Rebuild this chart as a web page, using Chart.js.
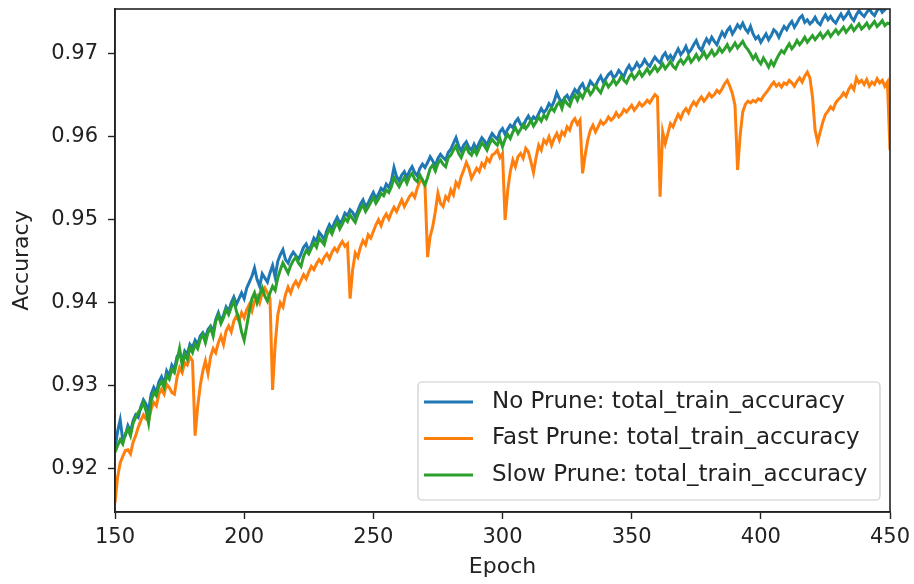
<!DOCTYPE html>
<html>
<head>
<meta charset="utf-8">
<script src="https://cdn.jsdelivr.net/npm/chart.js@4/dist/chart.umd.min.js"></script>
<style>
  html, body { margin: 0; padding: 0; background: #ffffff; }
  canvas { display: block; }
</style>
</head>
<body>
<canvas id="chart" width="914" height="584"></canvas>
<script>
// Epochs 150..450, one accuracy reading per epoch
const firstEpoch = 150;
const epochCount = 301;
const epochs = Array.from({ length: epochCount }, (_, i) => firstEpoch + i);

const noPrune = [
  0.9225,0.9245,0.9259,0.9235,0.9240,0.9252,0.9245,0.9258,0.9265,0.9262,
  0.9275,0.9283,0.9278,0.9270,0.9290,0.9298,0.9292,0.9305,0.9311,0.9302,
  0.9318,0.9312,0.9325,0.9320,0.9335,0.9340,0.9330,0.9342,0.9338,0.9350,
  0.9346,0.9355,0.9350,0.9360,0.9364,0.9358,0.9368,0.9372,0.9365,0.9380,
  0.9388,0.9378,0.9385,0.9395,0.9390,0.9400,0.9407,0.9398,0.9405,0.9412,
  0.9405,0.9418,0.9425,0.9432,0.9442,0.9428,0.9420,0.9435,0.9430,0.9425,
  0.9436,0.9445,0.9431,0.9450,0.9458,0.9464,0.9452,0.9448,0.9456,0.9461,
  0.9457,0.9452,0.9459,0.9467,0.9471,0.9463,0.9469,0.9478,0.9474,0.9485,
  0.9481,0.9476,0.9487,0.9494,0.9489,0.9497,0.9503,0.9496,0.9500,0.9508,
  0.9505,0.9512,0.9509,0.9503,0.9511,0.9519,0.9524,0.9516,0.9520,0.9527,
  0.9533,0.9526,0.9531,0.9538,0.9535,0.9543,0.9539,0.9547,0.9563,0.9552,
  0.9547,0.9554,0.9558,0.9551,0.9559,0.9564,0.9557,0.9553,0.9562,0.9567,
  0.9563,0.9569,0.9576,0.9571,0.9565,0.9574,0.9579,0.9575,0.9572,0.9581,
  0.9585,0.9592,0.9599,0.9589,0.9583,0.9590,0.9594,0.9587,0.9584,0.9591,
  0.9585,0.9593,0.9599,0.9595,0.9590,0.9598,0.9604,0.9600,0.9597,0.9606,
  0.9610,0.9603,0.9609,0.9614,0.9611,0.9618,0.9622,0.9615,0.9612,0.9620,
  0.9625,0.9619,0.9624,0.9621,0.9628,0.9634,0.9629,0.9633,0.9640,0.9636,
  0.9643,0.9653,0.9646,0.9641,0.9647,0.9650,0.9644,0.9651,0.9657,0.9653,
  0.9660,0.9664,0.9656,0.9659,0.9667,0.9663,0.9661,0.9668,0.9673,0.9666,
  0.9670,0.9675,0.9678,0.9671,0.9674,0.9680,0.9676,0.9673,0.9681,0.9686,
  0.9680,0.9683,0.9689,0.9684,0.9687,0.9693,0.9688,0.9685,0.9691,0.9696,
  0.9692,0.9689,0.9697,0.9701,0.9694,0.9698,0.9693,0.9700,0.9706,0.9699,
  0.9703,0.9709,0.9701,0.9705,0.9711,0.9716,0.9708,0.9704,0.9712,0.9718,
  0.9713,0.9720,0.9715,0.9711,0.9719,0.9726,0.9721,0.9728,0.9732,0.9724,
  0.9729,0.9735,0.9731,0.9737,0.9730,0.9726,0.9733,0.9724,0.9718,0.9721,
  0.9714,0.9719,0.9724,0.9717,0.9722,0.9729,0.9726,0.9720,0.9727,0.9733,
  0.9729,0.9735,0.9739,0.9732,0.9737,0.9743,0.9746,0.9738,0.9741,0.9736,
  0.9739,0.9744,0.9738,0.9735,0.9742,0.9747,0.9741,0.9745,0.9740,0.9737,
  0.9743,0.9748,0.9742,0.9746,0.9751,0.9744,0.9740,0.9747,0.9752,0.9748,
  0.9745,0.9750,0.9754,0.9749,0.9746,0.9752,0.9756,0.9750,0.9753,0.9757,
  0.9755
];

const fastPrune = [
  0.9159,0.9190,0.9207,0.9215,0.9222,0.9223,0.9218,0.9232,0.9240,0.9250,
  0.9258,0.9265,0.9260,0.9258,0.9272,0.9280,0.9276,0.9290,0.9296,0.9290,
  0.9302,0.9298,0.9292,0.9290,0.9310,0.9322,0.9316,0.9328,0.9325,0.9335,
  0.9330,0.9240,0.9275,0.9300,0.9318,0.9330,0.9315,0.9335,0.9345,0.9340,
  0.9352,0.9360,0.9350,0.9366,0.9372,0.9365,0.9378,0.9384,0.9378,0.9388,
  0.9382,0.9392,0.9398,0.9390,0.9402,0.9408,0.9400,0.9412,0.9418,0.9412,
  0.9405,0.9295,0.9350,0.9385,0.9400,0.9395,0.9410,0.9419,0.9412,0.9421,
  0.9426,0.9420,0.9427,0.9434,0.9429,0.9437,0.9444,0.9440,0.9447,0.9452,
  0.9448,0.9455,0.9459,0.9453,0.9461,0.9466,0.9462,0.9469,0.9474,0.9468,
  0.9471,0.9405,0.9440,0.9460,0.9455,0.9467,0.9475,0.9470,0.9482,0.9478,
  0.9486,0.9494,0.9500,0.9493,0.9502,0.9507,0.9501,0.9509,0.9515,0.9510,
  0.9517,0.9524,0.9516,0.9522,0.9528,0.9532,0.9527,0.9538,0.9546,0.9548,
  0.9540,0.9455,0.9480,0.9492,0.9510,0.9532,0.9520,0.9516,0.9528,0.9524,
  0.9536,0.9530,0.9545,0.9540,0.9552,0.9560,0.9569,0.9562,0.9550,0.9556,
  0.9562,0.9558,0.9568,0.9564,0.9574,0.9570,0.9578,0.9580,0.9584,0.9575,
  0.9580,0.9500,0.9535,0.9558,0.9572,0.9564,0.9576,0.9580,0.9574,0.9586,
  0.9582,0.9570,0.9557,0.9575,0.9590,0.9584,0.9596,0.9592,0.9600,0.9590,
  0.9598,0.9604,0.9596,0.9606,0.9602,0.9612,0.9608,0.9618,0.9622,0.9615,
  0.9620,0.9556,0.9578,0.9596,0.9608,0.9614,0.9606,0.9612,0.9619,0.9615,
  0.9618,0.9624,0.9620,0.9623,0.9629,0.9624,0.9627,0.9633,0.9630,0.9634,
  0.9638,0.9632,0.9636,0.9641,0.9637,0.9640,0.9644,0.9641,0.9646,0.9651,
  0.9648,0.9528,0.9606,0.9592,0.9604,0.9616,0.9612,0.9620,0.9627,0.9622,
  0.9630,0.9634,0.9629,0.9637,0.9642,0.9638,0.9644,0.9648,0.9643,0.9647,
  0.9652,0.9648,0.9651,0.9656,0.9653,0.9658,0.9664,0.9668,0.9661,0.9652,
  0.9638,0.9560,0.9602,0.9630,0.9639,0.9643,0.9641,0.9644,0.9642,0.9646,
  0.9644,0.9649,0.9653,0.9657,0.9662,0.9666,0.9661,0.9664,0.9660,0.9665,
  0.9663,0.9668,0.9665,0.9661,0.9667,0.9671,0.9666,0.9673,0.9678,0.9671,
  0.9648,0.9608,0.9594,0.9606,0.9618,0.9627,0.9631,0.9636,0.9633,0.9641,
  0.9645,0.9648,0.9653,0.9649,0.9657,0.9662,0.9657,0.9671,0.9665,0.9668,
  0.9663,0.9669,0.9661,0.9666,0.9663,0.9670,0.9665,0.9668,0.9661,0.9666,
  0.9584
];

const slowPrune = [
  0.9220,0.9228,0.9235,0.9230,0.9242,0.9248,0.9240,0.9255,0.9262,0.9268,
  0.9272,0.9280,0.9270,0.9255,0.9282,0.9292,0.9288,0.9300,0.9305,0.9298,
  0.9312,0.9308,0.9320,0.9316,0.9330,0.9345,0.9325,0.9338,0.9332,0.9346,
  0.9340,0.9350,0.9345,0.9356,0.9362,0.9352,0.9364,0.9370,0.9360,0.9378,
  0.9385,0.9375,0.9382,0.9392,0.9386,0.9395,0.9402,0.9390,0.9380,0.9365,
  0.9355,0.9372,0.9390,0.9405,0.9412,0.9400,0.9410,0.9418,0.9408,0.9402,
  0.9412,0.9420,0.9415,0.9430,0.9440,0.9448,0.9442,0.9436,0.9445,0.9451,
  0.9455,0.9448,0.9444,0.9456,0.9463,0.9459,0.9466,0.9472,0.9467,0.9478,
  0.9474,0.9470,0.9482,0.9489,0.9483,0.9491,0.9497,0.9489,0.9495,0.9502,
  0.9498,0.9506,0.9501,0.9497,0.9506,0.9513,0.9518,0.9510,0.9515,0.9521,
  0.9527,0.9520,0.9525,0.9532,0.9529,0.9536,0.9533,0.9540,0.9551,0.9545,
  0.9540,0.9546,0.9551,0.9544,0.9552,0.9556,0.9549,0.9546,0.9554,0.9548,
  0.9542,0.9551,0.9562,0.9566,0.9559,0.9568,0.9572,0.9567,0.9564,0.9575,
  0.9578,0.9584,0.9589,0.9580,0.9575,0.9583,0.9588,0.9581,0.9578,0.9585,
  0.9579,0.9586,0.9593,0.9589,0.9584,0.9592,0.9597,0.9593,0.9590,0.9598,
  0.9588,0.9597,0.9603,0.9598,0.9606,0.9611,0.9604,0.9609,0.9615,0.9610,
  0.9614,0.9620,0.9613,0.9618,0.9624,0.9619,0.9626,0.9622,0.9630,0.9635,
  0.9631,0.9638,0.9642,0.9634,0.9645,0.9640,0.9637,0.9646,0.9650,0.9644,
  0.9652,0.9647,0.9654,0.9658,0.9651,0.9655,0.9662,0.9657,0.9653,0.9661,
  0.9666,0.9660,0.9664,0.9669,0.9663,0.9667,0.9673,0.9668,0.9665,0.9672,
  0.9676,0.9670,0.9674,0.9679,0.9673,0.9677,0.9682,0.9676,0.9680,0.9685,
  0.9679,0.9683,0.9688,0.9682,0.9686,0.9691,0.9685,0.9682,0.9689,0.9693,
  0.9688,0.9692,0.9697,0.9690,0.9694,0.9699,0.9693,0.9697,0.9702,0.9695,
  0.9699,0.9704,0.9698,0.9701,0.9707,0.9702,0.9706,0.9711,0.9704,0.9708,
  0.9713,0.9707,0.9711,0.9715,0.9709,0.9705,0.9700,0.9694,0.9699,0.9692,
  0.9688,0.9695,0.9690,0.9684,0.9691,0.9686,0.9693,0.9699,0.9704,0.9701,
  0.9707,0.9712,0.9706,0.9710,0.9716,0.9711,0.9715,0.9720,0.9714,0.9718,
  0.9722,0.9717,0.9721,0.9725,0.9719,0.9723,0.9727,0.9721,0.9725,0.9729,
  0.9724,0.9728,0.9732,0.9726,0.9730,0.9734,0.9728,0.9732,0.9736,0.9730,
  0.9733,0.9737,0.9731,0.9735,0.9739,0.9733,0.9736,0.9740,0.9734,0.9737,
  0.9736
];

const seriesNames = [
  'No Prune: total_train_accuracy',
  'Fast Prune: total_train_accuracy',
  'Slow Prune: total_train_accuracy'
];
const seriesColors = ['#1f77b4', '#ff7f0e', '#2ca02c'];
const xTicks = [150, 200, 250, 300, 350, 400, 450];
const yTicks = [0.92, 0.93, 0.94, 0.95, 0.96, 0.97];

const FONT = "'DejaVu Sans', 'Liberation Sans', sans-serif";
const INK = '#222222';

function toPoints(values) {
  return epochs.map((e, i) => ({ x: e, y: values[i] }));
}

// Frame on all four sides, drawn over the lines
const framePlugin = {
  id: 'frame',
  afterDatasetsDraw(chart) {
    const { ctx, chartArea: a } = chart;
    ctx.save();
    ctx.strokeStyle = INK;
    ctx.lineWidth = 1.6;
    ctx.strokeRect(a.left, a.top, a.right - a.left, a.bottom - a.top);
    ctx.restore();
  }
};

// Boxed legend in the lower right of the plot
const legendPlugin = {
  id: 'boxLegend',
  afterDraw(chart) {
    const { ctx, chartArea: a } = chart;
    const fontSize = 23;
    const rowGap = 36.5;
    const boxW = 462, boxH = 118;
    const x0 = a.right - 10 - boxW;
    const y0 = a.bottom - 12 - boxH;
    ctx.save();
    ctx.beginPath();
    if (ctx.roundRect) ctx.roundRect(x0, y0, boxW, boxH, 4);
    else ctx.rect(x0, y0, boxW, boxH);
    ctx.fillStyle = 'rgba(255,255,255,0.8)';
    ctx.fill();
    ctx.strokeStyle = '#cccccc';
    ctx.lineWidth = 1.2;
    ctx.stroke();
    ctx.font = fontSize + 'px ' + FONT;
    ctx.textBaseline = 'middle';
    ctx.textAlign = 'left';
    seriesNames.forEach((name, i) => {
      const y = y0 + 20 + i * rowGap;
      ctx.strokeStyle = seriesColors[i];
      ctx.lineWidth = 3;
      ctx.beginPath();
      ctx.moveTo(x0 + 6, y);
      ctx.lineTo(x0 + 55, y);
      ctx.stroke();
      ctx.fillStyle = INK;
      ctx.fillText(name, x0 + 74, y);
    });
    ctx.restore();
  }
};

const datasets = [
  { label: seriesNames[0], data: toPoints(noPrune),   borderColor: seriesColors[0], order: 3 },
  { label: seriesNames[1], data: toPoints(fastPrune), borderColor: seriesColors[1], order: 2 },
  { label: seriesNames[2], data: toPoints(slowPrune), borderColor: seriesColors[2], order: 1 }
].map(d => Object.assign(d, {
  borderWidth: 3,
  pointRadius: 0,
  tension: 0,
  fill: false,
  clip: 0
}));

function noEdgePadding(s) {
  s.paddingTop = 0;
  s.paddingBottom = 0;
  s.paddingLeft = 0;
  s.paddingRight = 0;
}

new Chart(document.getElementById('chart'), {
  type: 'line',
  data: { datasets },
  options: {
    responsive: false,
    animation: false,
    devicePixelRatio: 1,
    layout: { padding: { top: 9, right: 24, bottom: 0, left: 0 } },
    plugins: {
      legend: { display: false },
      tooltip: { enabled: false }
    },
    scales: {
      x: {
        type: 'linear',
        min: 150,
        max: 450,
        afterBuildTicks: s => { s.ticks = xTicks.map(v => ({ value: v })); },
        afterFit: s => { s.height = 72; noEdgePadding(s); },
        grid: { drawOnChartArea: false, drawTicks: true, tickLength: 7, tickWidth: 1.4, tickColor: INK },
        border: { display: true, color: INK, width: 1.6 },
        ticks: {
          color: INK,
          padding: 6,
          maxRotation: 0,
          font: { family: FONT, size: 21 },
          callback: v => String(v)
        },
        title: {
          display: true,
          text: 'Epoch',
          color: INK,
          font: { family: FONT, size: 22 },
          padding: { top: 0, bottom: 4 }
        }
      },
      y: {
        type: 'linear',
        min: 0.9148,
        max: 0.9754,
        afterBuildTicks: s => { s.ticks = yTicks.map(v => ({ value: v })); },
        afterFit: s => { s.width = 115; noEdgePadding(s); },
        grid: { drawOnChartArea: false, drawTicks: true, tickLength: 7, tickWidth: 1.4, tickColor: INK },
        border: { display: true, color: INK, width: 1.6 },
        ticks: {
          color: INK,
          padding: 10,
          font: { family: FONT, size: 21 },
          callback: v => Number(v).toFixed(2)
        },
        title: {
          display: true,
          text: 'Accuracy',
          color: INK,
          font: { family: FONT, size: 22 },
          padding: { top: 9, bottom: 0 }
        }
      }
    }
  },
  plugins: [framePlugin, legendPlugin]
});
</script>
</body>
</html>
